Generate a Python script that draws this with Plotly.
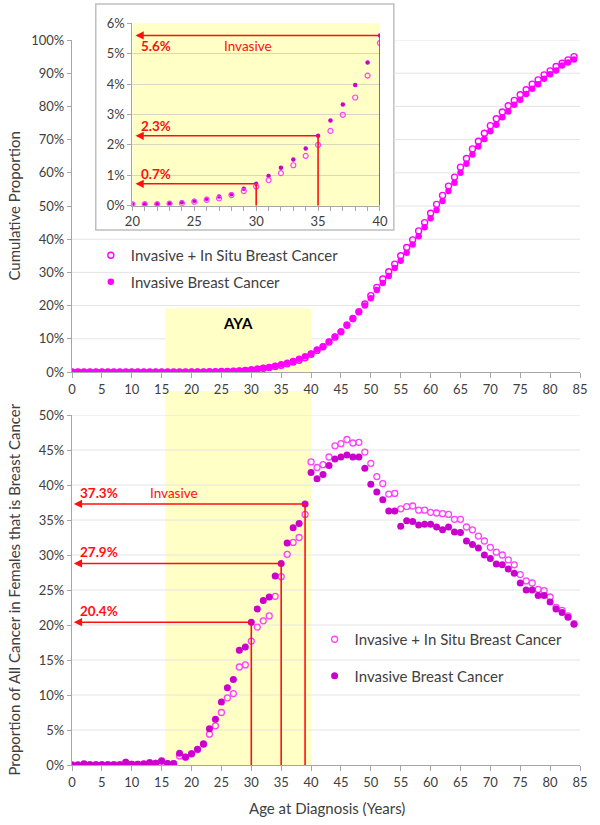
import plotly.graph_objects as go

# ---------------- data ----------------
ages = list(range(0, 85))

# Cumulative proportion (%) - top panel
top_invasive = [
    0, 0, 0, 0, 0, 0, 0, 0, 0, 0,
    0, 0, 0, 0, 0, 0, 0, 0, 0.02, 0.03,
    0.05, 0.05, 0.06, 0.08, 0.11, 0.16, 0.23, 0.30, 0.38, 0.56,
    0.72, 0.98, 1.25, 1.52, 1.88, 2.3, 2.8, 3.33, 3.97, 4.71,
    5.6, 6.8, 7.7, 9.2, 10.7, 12.2, 14.2, 16.0, 18.0, 20.0,
    22.2, 24.7, 26.8, 28.9, 31.3, 33.5, 35.9, 38.4, 40.9, 43.6,
    46.3, 48.8, 51.5, 54.5, 57.0, 60.0, 62.7, 65.5, 67.9, 70.2,
    72.5, 74.5, 76.7, 78.5, 80.5, 82.0, 83.7, 85.3, 86.7, 88.3,
    89.7, 90.8, 92.3, 93.2, 94.1,
]
top_insitu = [
    0, 0, 0, 0, 0, 0, 0, 0, 0, 0,
    0, 0, 0, 0, 0, 0, 0, 0, 0.02, 0.03,
    0.05, 0.05, 0.05, 0.07, 0.08, 0.13, 0.19, 0.24, 0.35, 0.48,
    0.63, 0.84, 1.07, 1.33, 1.64, 2.0, 2.46, 2.99, 3.56, 4.28,
    5.35, 6.5, 7.6, 9.0, 10.5, 12.1, 14.1, 16.1, 18.2, 20.5,
    23.0, 25.5, 28.0, 30.2, 32.5, 35.0, 37.5, 39.8, 42.5, 45.0,
    47.8, 50.5, 53.2, 56.0, 58.7, 61.7, 64.3, 67.2, 69.5, 71.9,
    74.2, 76.3, 78.3, 80.2, 81.8, 83.5, 85.0, 86.7, 88.0, 89.5,
    90.7, 92.0, 93.0, 94.0, 95.0,
]

# Proportion of all cancer in females that is breast cancer (%) - bottom panel
bot_invasive = [
    0.0, 0.0, 0.14, 0.05, 0.05, 0.05, 0.05, 0.05, 0.05, 0.38,
    0.1, 0.1, 0.14, 0.33, 0.24, 0.57, 0.2, 0.2, 1.67, 1.14,
    1.62, 2.24, 3.0, 5.19, 6.52, 9.0, 11.05, 12.2, 16.4, 16.86,
    20.4, 22.3, 23.5, 24.0, 27.0, 28.8, 31.7, 33.9, 34.5, 37.3,
    41.8, 40.9, 41.5, 42.8, 43.7, 44.0, 44.3, 44.0, 44.0, 42.4,
    40.1, 39.0, 37.9, 36.3, 36.3, 34.1, 34.9, 34.8, 34.3, 34.4,
    34.4, 34.0, 33.6, 34.0, 33.3, 33.2, 32.0, 31.5, 31.0, 30.0,
    29.5, 28.7, 28.6, 28.0, 27.4, 26.0, 25.0, 25.0, 24.2, 24.2,
    23.3, 22.3, 21.8, 21.1, 20.1,
]
bot_insitu = [
    0.0, 0.0, 0.14, 0.05, 0.05, 0.05, 0.05, 0.05, 0.05, 0.38,
    0.1, 0.1, 0.14, 0.33, 0.24, 0.57, 0.2, 0.2, 1.3, 1.1,
    1.6, 2.2, 3.0, 4.4, 5.6, 7.5, 9.6, 10.2, 14.0, 14.3,
    17.7, 19.7, 20.6, 21.3, 24.1, 26.9, 30.1, 31.8, 32.5, 35.8,
    43.3, 42.5, 42.9, 44.0, 45.6, 45.9, 46.5, 46.0, 46.1, 44.7,
    43.1, 41.2, 40.2, 38.7, 38.8, 36.6, 36.9, 37.0, 36.4, 36.4,
    36.1, 36.0, 35.9, 35.8, 35.1, 35.1, 34.0, 33.6, 32.7, 32.0,
    31.1, 30.4, 30.0, 29.3, 28.6, 27.2, 26.3, 26.0, 25.1, 24.9,
    24.0, 22.5, 22.1, 21.3, 20.2,
]

inset_ages = ages[20:41]
inset_invasive = top_invasive[20:41]
inset_insitu = top_insitu[20:41]

inset_mark_ages = [30, 35, 40]
inset_mark_labels = ["0.7%", "2.3%", "5.6%"]
bot_mark_ages = [30, 35, 39]
bot_mark_labels = ["20.4%", "27.9%", "37.3%"]

x_ticks = list(range(0, 90, 5))
aya_range = [15.6, 40.0]

name_insitu = "Invasive + In Situ Breast Cancer"
name_invasive = "Invasive Breast Cancer"
aya_label = "AYA"
inv_label = "Invasive"
y_title_top = "Cumulative Proportion"
y_title_bot = "Proportion of All Cancer in Females that is Breast Cancer"
x_title = "Age at Diagnosis (Years)"

# ---------------- styling ----------------
FONT = "Lato"
W, H = 600, 825
OFF = 0  # page body margin removed via post_script
PW, PH = 513, 745
ML = 72 - OFF
MT = 20 - OFF
MR = W - ML - PW
MB = H - MT - PH


def xp(px):
    # screen px -> paper x
    return (px - OFF - ML) / PW


def yp(py):
    # screen px -> paper y
    return (MT + PH - (py - OFF)) / PH


MAG = "#FF00FF"
MAG_DARK = "#CC00CC"
MAG_OPEN = "#FF40FF"
RED = "#FF1010"
YEL = "#FFFFC6"
GRID = "#E4E4E4"
AXL = "#A6A6A6"
TXT = "#404040"

fig = go.Figure()

# top main
fig.add_trace(go.Scatter(x=ages, y=top_invasive, mode="markers", name=name_invasive,
                         marker=dict(color=MAG, size=6.5), xaxis="x", yaxis="y",
                         legend="legend", legendrank=2, legendgroup="a"))
fig.add_trace(go.Scatter(x=ages, y=top_insitu, mode="markers", name=name_insitu,
                         marker=dict(symbol="circle-open", color=MAG, size=6, line=dict(width=1.4)),
                         xaxis="x", yaxis="y", legend="legend", legendrank=1, legendgroup="b"))
# inset
fig.add_trace(go.Scatter(x=inset_ages, y=inset_invasive, mode="markers", showlegend=False,
                         marker=dict(color=MAG_DARK, size=4.5), xaxis="x3", yaxis="y3"))
fig.add_trace(go.Scatter(x=inset_ages, y=inset_insitu, mode="markers", showlegend=False,
                         marker=dict(symbol="circle-open", color=MAG_OPEN, size=5, line=dict(width=1.2)),
                         xaxis="x3", yaxis="y3"))
# bottom
fig.add_trace(go.Scatter(x=ages, y=bot_insitu, mode="markers", name=name_insitu,
                         marker=dict(symbol="circle-open", color=MAG_OPEN, size=6, line=dict(width=1.3)),
                         xaxis="x2", yaxis="y2", legend="legend2", legendrank=1, legendgroup="c"))
fig.add_trace(go.Scatter(x=ages, y=bot_invasive, mode="markers", name=name_invasive,
                         marker=dict(color=MAG_DARK, size=7), xaxis="x2", yaxis="y2",
                         legend="legend2", legendrank=2, legendgroup="d"))

shapes = []
annotations = []

# inset frame (white box) in paper coords
box = dict(x0=xp(96), x1=xp(397), y0=yp(230), y1=yp(4))
shapes.append(dict(type="rect", xref="paper", yref="paper", layer="below",
                   fillcolor="white", line=dict(color="#BFBFBF", width=1.5), **box))
# inset yellow plot area
shapes.append(dict(type="rect", xref="x3 domain", yref="y3 domain", x0=0, x1=1, y0=0, y1=1,
                   layer="below", fillcolor=YEL, line=dict(width=0)))

# top gridlines (manual so the inset box covers them)
for v in range(10, 101, 10):
    if v >= 50:
        shapes.append(dict(type="line", xref="paper", yref="y", x0=box["x1"], x1=1, y0=v, y1=v,
                           layer="below", line=dict(color=GRID, width=1)))
    else:
        shapes.append(dict(type="line", xref="x", yref="y", x0=0, x1=85, y0=v, y1=v,
                           layer="below", line=dict(color=GRID, width=1)))
# top AYA band
shapes.append(dict(type="rect", xref="x", yref="y", x0=aya_range[0], x1=aya_range[1], y0=0, y1=19.2,
                   layer="below", fillcolor=YEL, line=dict(width=0)))
annotations.append(dict(text="<b>" + aya_label + "</b>", xref="x", yref="y", x=27.8, y=14.8,
                        showarrow=False, font=dict(family=FONT, size=15, color="#000000")))

# bottom gridlines
for v in range(5, 51, 5):
    shapes.append(dict(type="line", xref="x2", yref="y2", x0=0, x1=85, y0=v, y1=v,
                       layer="below", line=dict(color=GRID, width=1)))
# bottom AYA band (extends slightly above plot area)
shapes.append(dict(type="rect", xref="x2", yref="paper", x0=aya_range[0], x1=aya_range[1],
                   y0=0, y1=yp(391), layer="below", fillcolor=YEL, line=dict(width=0)))


# red guide lines + arrows
def guides(xa, ya, mark_ages, series, labels, xmin, label_dy, inv_x, inv_dy, top_idx):
    for i, (a, lab) in enumerate(zip(mark_ages, labels)):
        v = series[ages.index(a)]
        shapes.append(dict(type="line", xref=xa, yref=ya, x0=a, x1=a, y0=0, y1=v,
                           line=dict(color=RED, width=1.6), layer="above"))
        annotations.append(dict(x=xmin, y=v, ax=a, ay=v, xref=xa, yref=ya, axref=xa, ayref=ya,
                                text="", showarrow=True, arrowhead=2, arrowsize=1.1,
                                arrowwidth=1.5, arrowcolor=RED))
        dy = label_dy if i != top_idx or inv_dy > 0 else inv_dy
        annotations.append(dict(text="<b>" + lab + "</b>", x=xmin, y=v, xref=xa, yref=ya,
                                xanchor="left", yanchor="middle", xshift=4, yshift=dy,
                                showarrow=False, font=dict(family=FONT, size=13.5, color=RED)))
        if i == top_idx:
            annotations.append(dict(text=inv_label, x=inv_x, y=v, xref=xa, yref=ya,
                                    xanchor="center", yanchor="middle", yshift=dy,
                                    showarrow=False, font=dict(family=FONT, size=13.5, color=RED)))


guides("x3", "y3", inset_mark_ages, top_invasive, inset_mark_labels, 20.25, 10, 29.3, -11, 2)
guides("x2", "y2", bot_mark_ages, bot_invasive, bot_mark_labels, 0.3, 11, 17.0, 11, 2)

# axis titles
annotations.append(dict(text=y_title_top, xref="paper", yref="paper", x=xp(13),
                        y=(yp(372) + yp(40)) / 2, textangle=-90, showarrow=False,
                        xanchor="center", yanchor="middle",
                        font=dict(family=FONT, size=15, color=TXT)))
annotations.append(dict(text=y_title_bot, xref="paper", yref="paper", x=xp(13),
                        y=(yp(765) + yp(415)) / 2, textangle=-90, showarrow=False,
                        xanchor="center", yanchor="middle",
                        font=dict(family=FONT, size=15, color=TXT)))
annotations.append(dict(text=x_title, xref="paper", yref="paper", x=xp(330), y=yp(808),
                        showarrow=False, xanchor="center", yanchor="middle",
                        font=dict(family=FONT, size=15, color=TXT)))

tickfont = dict(family=FONT, size=13, color=TXT)
common_x = dict(range=[0, 85], tickvals=x_ticks, showgrid=False, zeroline=False,
                showline=True, linecolor=AXL, linewidth=1.3, ticks="outside", ticklen=5,
                tickcolor=AXL, tickfont=tickfont)
common_y = dict(showgrid=False, zeroline=False, showline=True, linecolor=AXL, linewidth=1.3,
                ticks="outside", ticklen=4, tickcolor=AXL, tickfont=tickfont, ticksuffix="%")

fig.update_layout(
    width=W, height=H,
    margin=dict(l=ML, r=MR, t=MT, b=MB),
    paper_bgcolor="white", plot_bgcolor="rgba(0,0,0,0)",
    font=dict(family=FONT, color=TXT),
    xaxis=dict(domain=[0, 1], anchor="y", **common_x),
    yaxis=dict(domain=[yp(372), yp(40)], range=[0, 100], dtick=10, anchor="x", **common_y),
    xaxis2=dict(domain=[0, 1], anchor="y2", **common_x),
    yaxis2=dict(domain=[0, yp(415)], range=[0, 50], dtick=5, anchor="x2", **common_y),
    xaxis3=dict(domain=[xp(133), xp(383)], anchor="y3", range=[20, 40],
                tickvals=list(range(20, 41)),
                ticktext=[str(a) if a % 5 == 0 else "" for a in range(20, 41)],
                showgrid=False, zeroline=False, showline=True, linecolor=AXL, linewidth=1.2,
                ticks="outside", ticklen=4, tickcolor=AXL, tickfont=tickfont),
    yaxis3=dict(domain=[yp(205.7), yp(23.3)], anchor="x3", range=[0, 6], dtick=1,
                showgrid=True, gridcolor="#D8D8C0", zeroline=False, showline=True,
                linecolor=AXL, linewidth=1.2, ticks="outside", ticklen=4, tickcolor=AXL,
                tickfont=tickfont, ticksuffix="%"),
    showlegend=True,
    legend=dict(x=xp(91), y=yp(239), xanchor="left", yanchor="top", bgcolor="rgba(0,0,0,0)",
                traceorder="grouped", tracegroupgap=4,
                font=dict(family=FONT, size=15, color=TXT)),
    legend2=dict(x=xp(317), y=yp(623), xanchor="left", yanchor="top", bgcolor="rgba(0,0,0,0)",
                 traceorder="grouped", tracegroupgap=14,
                 font=dict(family=FONT, size=15, color=TXT)),
    shapes=shapes,
    annotations=annotations,
)

fig.write_html("out.html", config={"displayModeBar": False},
               post_script="document.body.style.margin='0';")
